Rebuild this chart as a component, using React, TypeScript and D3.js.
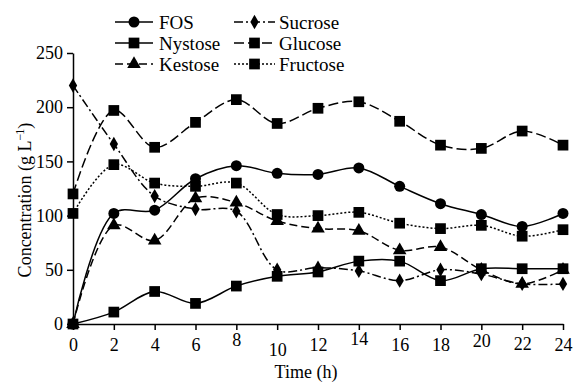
import React, { useEffect, useRef } from 'react';
import * as d3 from 'd3';

const hours = [0, 2, 4, 6, 8, 10, 12, 14, 16, 18, 20, 22, 24];
const fos = [0, 102, 105, 134, 146, 139, 138, 144, 127, 111, 101, 90, 102];
const nystose = [0, 11, 30, 19, 35, 44, 48, 58, 58, 40, 51, 51, 51];
const kestose = [0, 91, 77, 116, 112, 95, 88, 86, 68, 71, 50, 37, 50];
const sucrose = [220, 166, 118, 106, 104, 50, 52, 49, 40, 50, 46, 37, 37];
const glucose = [120, 197, 163, 186, 207, 185, 199, 205, 187, 165, 162, 178, 165];
const fructose = [102, 147, 130, 127, 130, 101, 100, 103, 93, 88, 91, 81, 87];
const yTicks = [0, 50, 100, 150, 200, 250];
// label vertical nudges as in the original scan
const xLabelShift: Record<number, number> = { 8: -5, 10: 5, 14: -6, 20: -4, 22: -1 };

const series = [
  { name: 'FOS', values: fos, marker: 'circle', dash: null },
  { name: 'Nystose', values: nystose, marker: 'square', dash: null },
  { name: 'Kestose', values: kestose, marker: 'triangle', dash: '8,4' },
  { name: 'Sucrose', values: sucrose, marker: 'diamond', dash: '9,3,2,3' },
  { name: 'Glucose', values: glucose, marker: 'square', dash: '10,4' },
  { name: 'Fructose', values: fructose, marker: 'square', dash: '2,2' },
];

const symbolFor = (m: string) => {
  if (m === 'circle') return d3.symbol(d3.symbolCircle, 95);
  if (m === 'triangle') return d3.symbol(d3.symbolTriangle, 80);
  if (m === 'diamond') return d3.symbol(d3.symbolDiamond, 60);
  return d3.symbol(d3.symbolSquare, 115);
};

const App = () => {
  const svgRef = useRef<SVGSVGElement>(null);

  useEffect(() => {
    const svg = d3.select(svgRef.current);
    svg.selectAll('*').remove();
    const font = '"Liberation Serif", "Times New Roman", serif';

    const x = d3.scaleLinear().domain([0, 24]).range([73, 563]);
    const y = d3.scaleLinear().domain([0, 250]).range([324, 53]);

    // axes
    const yAxis = svg.append('g')
      .attr('transform', `translate(${x(0)},0)`)
      .call(d3.axisLeft(y).tickValues(yTicks).tickSize(6).tickSizeOuter(0).tickPadding(4));
    yAxis.select('.domain').attr('stroke-width', 1.5);
    yAxis.selectAll('line').attr('stroke-width', 1.5);
    yAxis.selectAll('text').style('font-family', font).style('font-size', '18px').attr('fill', '#000');

    const xAxis = svg.append('g')
      .attr('transform', `translate(0,${y(0)})`)
      .call(d3.axisBottom(x).tickValues(hours).tickSize(6).tickSizeOuter(0).tickPadding(8));
    xAxis.select('.domain').attr('stroke-width', 1.5);
    xAxis.selectAll('line').attr('stroke-width', 1.5);
    xAxis.selectAll<SVGTextElement, number>('text')
      .style('font-family', font).style('font-size', '18px').attr('fill', '#000')
      .attr('y', d => 14 + (xLabelShift[d] || 0));

    // axis titles
    svg.append('text')
      .attr('x', 306).attr('y', 378)
      .attr('text-anchor', 'middle')
      .style('font-family', font).style('font-size', '18px')
      .text('Time (h)');

    const yt = svg.append('text')
      .attr('transform', 'translate(31,200) rotate(-90)')
      .attr('text-anchor', 'middle')
      .style('font-family', font).style('font-size', '18px');
    yt.append('tspan').text('Concentration (g L');
    yt.append('tspan').attr('dy', -7).style('font-size', '12px').text('\u2212');
    yt.append('tspan').attr('dx', -1).style('font-size', '12px').text('1');
    yt.append('tspan').attr('dy', 7).text(')');

    // lines
    const line = d3.line<number>()
      .x((d, i) => x(hours[i]))
      .y(d => y(d))
      .curve(d3.curveCatmullRom.alpha(0.5));

    series.forEach(s => {
      svg.append('path')
        .datum(s.values)
        .attr('fill', 'none')
        .attr('stroke', '#000')
        .attr('stroke-width', 1.5)
        .attr('stroke-dasharray', s.dash)
        .attr('d', line);
    });

    series.forEach(s => {
      svg.append('g').selectAll('path')
        .data(s.values)
        .enter().append('path')
        .attr('transform', (d, i) => `translate(${x(hours[i])},${y(d)})`)
        .attr('d', symbolFor(s.marker))
        .attr('fill', '#000');
    });

    // legend
    const legendPos = [
      { x0: 115, x1: 153, tx: 159, ty: 22 },
      { x0: 115, x1: 153, tx: 159, ty: 43 },
      { x0: 115, x1: 153, tx: 159, ty: 64 },
      { x0: 234, x1: 275, tx: 279, ty: 22 },
      { x0: 234, x1: 275, tx: 279, ty: 43 },
      { x0: 234, x1: 275, tx: 279, ty: 64 },
    ];
    const legend = svg.append('g');
    series.forEach((s, i) => {
      const p = legendPos[i];
      legend.append('line')
        .attr('x1', p.x0).attr('x2', p.x1)
        .attr('y1', p.ty).attr('y2', p.ty)
        .attr('stroke', '#000').attr('stroke-width', 1.5)
        .attr('stroke-dasharray', s.dash);
      legend.append('path')
        .attr('transform', `translate(${(p.x0 + p.x1) / 2},${p.ty})`)
        .attr('d', symbolFor(s.marker))
        .attr('fill', '#000');
      legend.append('text')
        .attr('x', p.tx).attr('y', p.ty)
        .attr('dy', '0.35em')
        .style('font-family', font).style('font-size', '19px')
        .text(s.name);
    });
  }, []);

  return (
    <svg ref={svgRef} width={576} height={385}
      style={{ position: 'absolute', left: 0, top: 0, background: '#fff' }} />
  );
};

export default App;
